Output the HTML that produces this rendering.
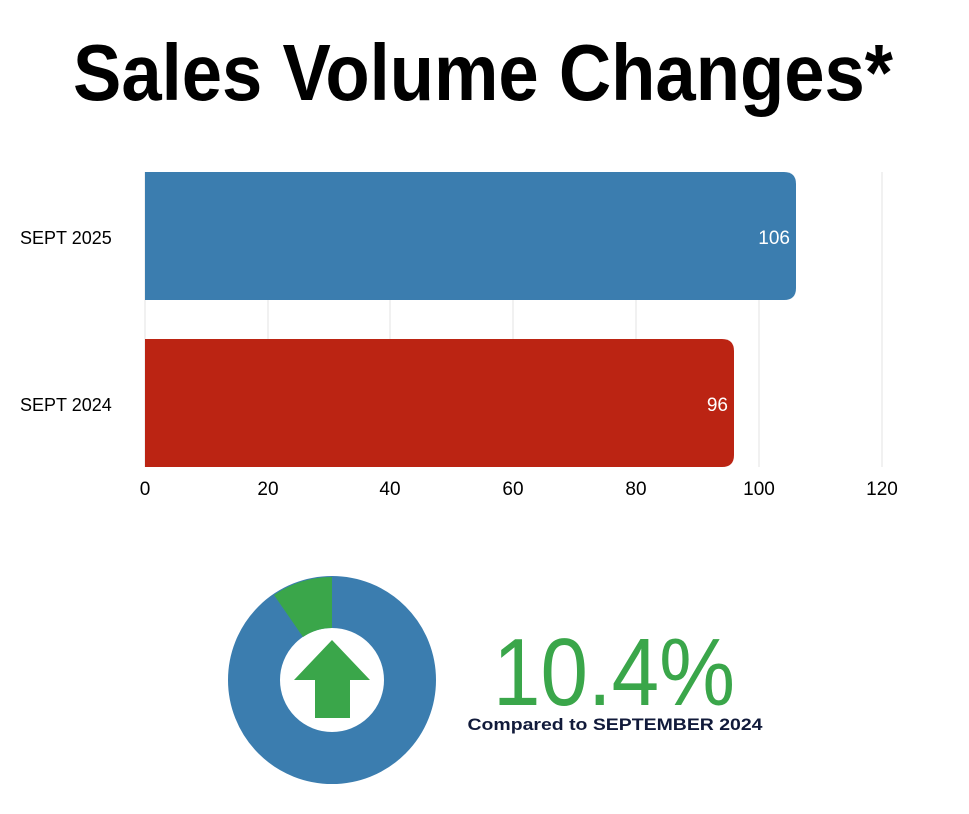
<!DOCTYPE html>
<html><head><meta charset="utf-8"><style>
html,body{margin:0;padding:0;background:#fff;}
svg{display:block;}
</style></head><body>
<svg width="969" height="814" viewBox="0 0 969 814" xmlns="http://www.w3.org/2000/svg" font-family="Liberation Sans, sans-serif">
<rect width="969" height="814" fill="#fff"/>
<text x="483" y="100" text-anchor="middle" font-size="80" font-weight="bold" textLength="820" lengthAdjust="spacingAndGlyphs" fill="#000">Sales Volume Changes*</text>
<g stroke="#e3e3e3" stroke-width="1">
<line x1="268" y1="172" x2="268" y2="467"/>
<line x1="390" y1="172" x2="390" y2="467"/>
<line x1="513" y1="172" x2="513" y2="467"/>
<line x1="636" y1="172" x2="636" y2="467"/>
<line x1="759" y1="172" x2="759" y2="467"/>
<line x1="882" y1="172" x2="882" y2="467"/>
<line x1="145" y1="172" x2="145" y2="467"/>
</g>
<path d="M145 172 H784 Q796 172 796 184 V288 Q796 300 784 300 H145 Z" fill="#3b7daf"/>
<path d="M145 339 H722 Q734 339 734 351 V455 Q734 467 722 467 H145 Z" fill="#bb2413"/>
<text x="790" y="244" text-anchor="end" font-size="19" fill="#fff">106</text>
<text x="728" y="411" text-anchor="end" font-size="19" fill="#fff">96</text>
<g font-size="18" fill="#000">
<text x="20" y="244">SEPT 2025</text>
<text x="20" y="411">SEPT 2024</text>
</g>
<g font-size="19" fill="#000" text-anchor="middle">
<text x="145" y="495">0</text><text x="268" y="495">20</text><text x="390" y="495">40</text>
<text x="513" y="495">60</text><text x="636" y="495">80</text><text x="759" y="495">100</text><text x="882" y="495">120</text>
</g>
<circle cx="332" cy="680" r="78" fill="none" stroke="#3b7daf" stroke-width="52"/>
<path d="M332 577 A103 103 0 0 0 274 595 L303 637 A52 52 0 0 1 332 628 Z" fill="#3aa64a"/>
<path d="M332 640 L370 680 L350 680 L350 718 L315 718 L315 680 L294 680 Z" fill="#3aa64a"/>
<text x="614" y="705" text-anchor="middle" font-size="96" fill="#3aa64a" textLength="242" lengthAdjust="spacingAndGlyphs">10.4%</text>
<text x="615" y="730" text-anchor="middle" font-size="17" font-weight="bold" fill="#111a3a" textLength="295" lengthAdjust="spacingAndGlyphs">Compared to SEPTEMBER 2024</text>
</svg>
</body></html>
